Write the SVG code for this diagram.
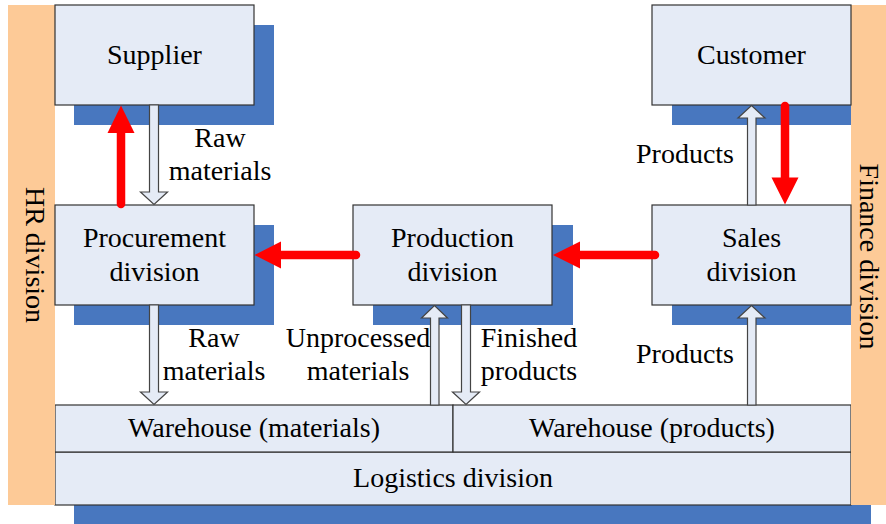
<svg xmlns="http://www.w3.org/2000/svg" width="886" height="524" viewBox="0 0 886 524">
  <style>
    .box { fill: #e5ebf6; stroke: #333333; stroke-width: 1.2; }
    .shadow { fill: #4877bf; }
    .strip { fill: #fdca97; }
    text { font-family: "Liberation Serif", "Times New Roman", serif; font-size: 28px; fill: #000; text-anchor: middle; }
    .hollow { fill: #e5ebf6; stroke: #444444; stroke-width: 1.2; stroke-linejoin: miter; }
    .red { fill: none; stroke: #ff0000; stroke-width: 8.5; stroke-linecap: round; }
    .redhead { fill: #ff0000; }
  </style>

  <!-- logistics base and warehouses -->
  <g id="logistics-division">
    <rect class="shadow" x="74" y="472" width="797" height="53"/>
    <rect class="box" x="55" y="452" width="796" height="53"/>
    <text x="453" y="487">Logistics division</text>
  </g>
  <g id="warehouse-materials">
    <rect class="box" x="55" y="405" width="398" height="47"/>
    <text x="254" y="437">Warehouse (materials)</text>
  </g>
  <g id="warehouse-products">
    <rect class="box" x="453" y="405" width="398" height="47"/>
    <text x="652" y="437">Warehouse (products)</text>
  </g>

  <!-- side divisions, drawn over the base shadow -->
  <g id="hr-division">
    <rect class="strip" x="8" y="5" width="47" height="500"/>
    <text transform="translate(25.5,255) rotate(90)">HR division</text>
  </g>
  <g id="finance-division">
    <rect class="strip" x="851" y="5" width="40" height="500"/>
    <text transform="translate(860,256.5) rotate(90)">Finance division</text>
  </g>

  <!-- organisational units -->
  <g id="supplier">
    <rect class="shadow" x="74" y="25" width="200" height="100"/>
    <rect class="box" x="55" y="5" width="199" height="100"/>
    <text x="154.5" y="64">Supplier</text>
  </g>
  <g id="customer">
    <rect class="shadow" x="672" y="25" width="179" height="100"/>
    <rect class="box" x="652" y="5" width="199" height="100"/>
    <text x="751.5" y="64">Customer</text>
  </g>
  <g id="procurement-division">
    <rect class="shadow" x="74" y="225" width="200" height="100"/>
    <rect class="box" x="55" y="205" width="199" height="100"/>
    <text x="154.5" y="247">Procurement</text>
    <text x="154.5" y="281">division</text>
  </g>
  <g id="production-division">
    <rect class="shadow" x="373" y="225" width="200" height="100"/>
    <rect class="box" x="353" y="205" width="199" height="100"/>
    <text x="452.5" y="247">Production</text>
    <text x="452.5" y="281">division</text>
  </g>
  <g id="sales-division">
    <rect class="shadow" x="672" y="225" width="179" height="100"/>
    <rect class="box" x="652" y="205" width="199" height="100"/>
    <text x="751.5" y="247">Sales</text>
    <text x="751.5" y="281">division</text>
  </g>

  <!-- connectors -->
  <g id="connectors">
    <!-- material / product flows (hollow block arrows) -->
    <path class="hollow" d="M149.5,105 H158.5 V192 H167.5 L154,204.5 L140.5,192 H149.5 Z"/>
    <path class="hollow" d="M149.5,305 H158.5 V392 H167.5 L154,404.5 L140.5,392 H149.5 Z"/>
    <path class="hollow" d="M430.5,405 H439 V318 H447.5 L434.5,305.5 L421.5,318 H430.5 Z"/>
    <path class="hollow" d="M461.5,305 H470.5 V392 H479.5 L466,404.5 L452.5,392 H461.5 Z"/>
    <path class="hollow" d="M747.5,205 H756 V118 H765 L751.5,105.5 L738,118 H747.5 Z"/>
    <path class="hollow" d="M747.5,405 H756 V318 H765 L751.5,305.5 L738,318 H747.5 Z"/>

    <!-- information flows (red arrows) -->
    <line class="red" x1="121" y1="204" x2="121" y2="131"/>
    <polygon class="redhead" points="121,105.5 134.5,133 107.5,133"/>
    <line class="red" x1="785" y1="106" x2="785" y2="180"/>
    <polygon class="redhead" points="785,204.5 771.5,177.5 798.5,177.5"/>
    <line class="red" x1="655" y1="255" x2="578" y2="255"/>
    <polygon class="redhead" points="553,255 580,241.5 580,268.5"/>
    <line class="red" x1="356" y1="255" x2="278" y2="255"/>
    <polygon class="redhead" points="254.5,255 281,241.5 281,268.5"/>
  </g>

  <!-- flow labels -->
  <g id="labels">
    <text x="220" y="147">Raw</text>
    <text x="220" y="180">materials</text>
    <text x="214" y="347">Raw</text>
    <text x="214" y="380">materials</text>
    <text x="358" y="347">Unprocessed</text>
    <text x="358" y="380">materials</text>
    <text x="529" y="347">Finished</text>
    <text x="529" y="380">products</text>
    <text x="685" y="163">Products</text>
    <text x="685" y="363">Products</text>
  </g>
</svg>
